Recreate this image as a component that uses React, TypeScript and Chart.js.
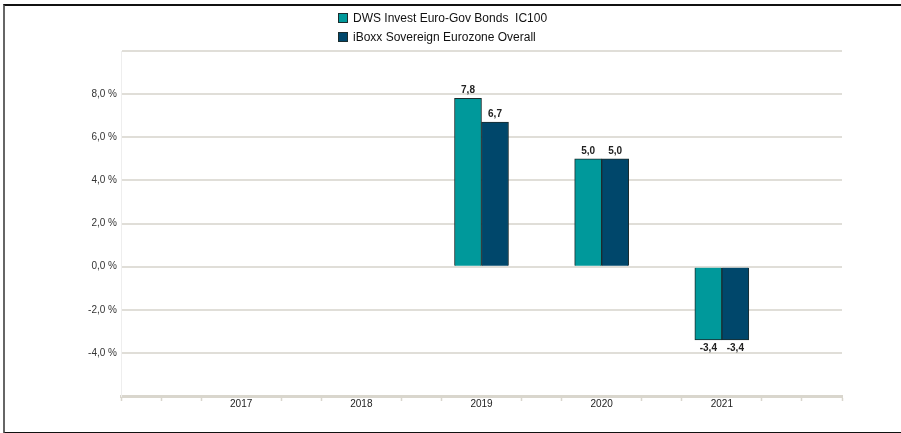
import React, { useEffect, useRef } from "react";
import { Chart, registerables } from "chart.js";

Chart.register(...registerables);

const years = [2017, 2018, 2019, 2020, 2021];
const fundValues: (number | null)[] = [null, null, 7.8, 5.0, -3.4];
const indexValues: (number | null)[] = [null, null, 6.7, 5.0, -3.4];
const seriesNames = ["DWS Invest Euro-Gov Bonds  IC100", "iBoxx Sovereign Eurozone Overall"];
const seriesColors = ["#00999b", "#00476b"];
const yMin = -6;
const yMax = 10;
const yStep = 2;
const yLabelMin = -4;
const yLabelMax = 8;
const xMin = 2016;
const xMax = 2022;
const xMinorPerYear = 3;

const FONT = "'Liberation Sans', Arial, sans-serif";

const fmt = (v: number) => v.toFixed(1).replace(".", ",");

const isYear = (v: number) => {
  const r = Math.round(v);
  return Math.abs(v - r) < 1e-6 && years.includes(r);
};

const valueLabels = {
  id: "valueLabels",
  afterDatasetsDraw(chart: any) {
    const ctx = chart.ctx;
    ctx.save();
    ctx.font = `bold 10px ${FONT}`;
    ctx.fillStyle = "#222";
    ctx.textAlign = "center";
    chart.data.datasets.forEach((ds: any, di: number) => {
      const meta = chart.getDatasetMeta(di);
      meta.data.forEach((el: any, i: number) => {
        const raw = ds.data[i];
        if (!raw || raw.y === null || raw.y === undefined) return;
        const v = raw.y as number;
        if (v >= 0) {
          ctx.textBaseline = "bottom";
          ctx.fillText(fmt(v), el.x, el.y - 3);
        } else {
          ctx.textBaseline = "top";
          ctx.fillText(fmt(v), el.x, el.y + 3);
        }
      });
    });
    ctx.restore();
  },
};

function ChartView() {
  const ref = useRef<HTMLCanvasElement | null>(null);
  useEffect(() => {
    if (!ref.current) return;
    const chart = new Chart(ref.current, {
      type: "bar",
      data: {
        datasets: [fundValues, indexValues].map((vals, k) => ({
          label: seriesNames[k],
          data: years.map((y, i) => ({ x: y, y: vals[i] })),
          backgroundColor: seriesColors[k],
          borderColor: "#1b2c2e",
          borderWidth: 1,
          barThickness: 27,
        })),
      },
      options: {
        responsive: false,
        animation: false,
        events: [],
        layout: { padding: { left: 0, right: 59, top: 51, bottom: 0 } },
        plugins: { legend: { display: false }, tooltip: { enabled: false } },
        scales: {
          x: {
            type: "linear",
            offset: false,
            min: xMin,
            max: xMax,
            afterBuildTicks: (scale: any) => {
              const t: any[] = [];
              const n = (xMax - xMin) * xMinorPerYear;
              for (let i = 0; i <= n; i++) t.push({ value: xMin + i / xMinorPerYear });
              scale.ticks = t;
            },
            afterFit: (scale: any) => {
              scale.height = 37;
            },
            border: { display: true, color: "#d9d6cd", width: 3 },
            grid: {
              offset: false,
              drawOnChartArea: false,
              drawTicks: true,
              tickLength: 5,
              tickWidth: 1.5,
              tickColor: (ctx: any) =>
                ctx.tick && isYear(ctx.tick.value) ? "rgba(0,0,0,0)" : "#d9d6cd",
            },
            ticks: {
              autoSkip: false,
              maxRotation: 0,
              padding: -3,
              color: "#222",
              font: { family: FONT, size: 10 },
              callback: (v: any) => (isYear(Number(v)) ? String(Math.round(Number(v))) : ""),
            },
          },
          y: {
            min: yMin,
            max: yMax,
            afterFit: (scale: any) => {
              scale.width = 121;
            },
            border: { display: true, color: "#eeeeee", width: 1 },
            grid: { color: "#e0ded8", lineWidth: 2, drawTicks: false },
            ticks: {
              stepSize: yStep,
              padding: 4,
              color: "#333",
              font: { family: FONT, size: 10 },
              callback: (v: any) => {
                const n = Number(v);
                return n >= yLabelMin && n <= yLabelMax ? fmt(n) + " %" : "";
              },
            },
          },
        },
      },
      plugins: [valueLabels],
    });
    return () => chart.destroy();
  }, []);
  return <canvas ref={ref} width={901} height={433} style={{ position: "absolute", left: 0, top: 0 }} />;
}

export default function App() {
  return (
    <div
      style={{
        position: "absolute",
        left: 0,
        top: 0,
        width: 901,
        height: 433,
        overflow: "hidden",
        background: "#fff",
        fontFamily: FONT,
      }}
    >
      <ChartView />
      <div
        style={{
          position: "absolute",
          left: 3,
          top: 4,
          width: 950,
          height: 426,
          borderLeft: "2px solid #666",
          borderTop: "2px solid #111",
          borderBottom: "2px solid #111",
          pointerEvents: "none",
        }}
      />
      <div style={{ position: "absolute", left: 338, top: 8, fontSize: 12, color: "#111" }}>
        {seriesNames.map((name, k) => (
          <div key={k} style={{ display: "flex", alignItems: "center", height: 19 }}>
            <span
              style={{
                display: "inline-block",
                width: 8,
                height: 8,
                background: seriesColors[k],
                border: "1px solid #1b2c2e",
                marginRight: 5,
              }}
            />
            <span style={{ whiteSpace: "pre" }}>{name}</span>
          </div>
        ))}
      </div>
    </div>
  );
}
